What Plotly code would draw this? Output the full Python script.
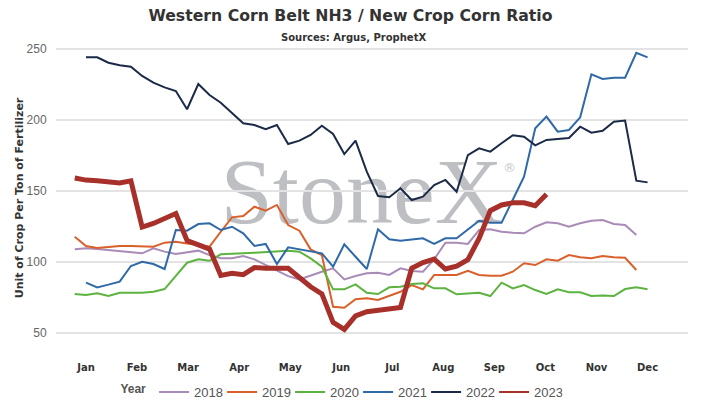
import plotly.graph_objects as Go

# razao NH3 / milho safra nova - valores semanais lidos do grafico
# semana 1 = primeira semana de jan (2021 e 2022 comecam na semana 2)
ano_2018 = [108.8, 109.5, 109.1, 108.3, 107.6, 106.9, 106.0, 109.5, 107.2, 105.5,
            106.5, 107.9, 104.8, 102.5, 102.5, 104.1, 101.8, 97.8, 94.0, 90.0,
            87.7, 90.5, 93.1, 95.5, 87.7, 90.1, 92.0, 92.4, 90.8, 95.5,
            93.6, 93.1, 101.8, 113.5, 113.5, 112.6, 122.4, 122.9, 121.2, 120.5,
            120.1, 124.7, 127.8, 127.1, 124.7, 127.1, 128.9, 129.4, 126.6, 125.9,
            118.9]
ano_2019 = [117.7, 111.2, 109.8, 110.7, 111.2, 111.2, 111.2, 110.7, 113.5, 114.2,
            113.0, 111.9, 110.7, 121.2, 131.3, 132.2, 138.8, 136.0, 140.0, 125.9,
            121.9, 108.8, 104.8, 68.5, 67.8, 73.7, 74.4, 73.2, 76.0, 79.0,
            83.7, 80.7, 90.8, 90.8, 90.8, 93.8, 90.8, 90.3, 90.3, 93.1,
            99.0, 97.8, 101.8, 100.8, 104.8, 103.2, 102.5, 104.1, 103.2, 102.9,
            94.3]
ano_2020 = [77.4, 76.7, 77.9, 76.0, 78.3, 78.3, 78.3, 79.0, 80.9, 90.1,
            99.4, 101.8, 100.8, 105.3, 105.5, 106.0, 106.5, 106.9, 107.5, 107.9,
            107.2, 102.5, 96.6, 80.7, 80.7, 84.2, 78.3, 77.4, 82.1, 82.6,
            84.4, 84.9, 81.4, 81.4, 77.2, 77.9, 78.3, 76.0, 85.4, 81.4,
            83.7, 80.2, 77.4, 80.7, 78.6, 78.6, 76.0, 76.3, 76.0, 80.9,
            82.1, 80.7]
ano_2021 = [85.4, 82.1, 84.0, 86.1, 97.1, 100.1, 98.5, 95.0, 122.4, 121.9,
            126.6, 127.1, 122.4, 124.7, 120.1, 111.2, 112.6, 98.5, 110.2, 108.8,
            107.9, 106.0, 96.6, 112.4, 103.6, 95.0, 122.9, 115.9, 114.9, 115.9,
            116.6, 112.6, 116.6, 116.6, 122.9, 128.9, 127.5, 127.5, 143.7, 159.9,
            193.9, 202.1, 191.5, 192.7, 201.6, 231.9, 228.6, 229.5, 229.5, 247.0,
            243.8]
ano_2022 = [243.8, 243.8, 240.0, 238.2, 237.2, 230.7, 226.0, 222.7, 220.1, 207.3,
            225.0, 217.3, 211.9, 204.4, 197.4, 196.2, 193.2, 196.2, 182.9, 185.2,
            189.2, 195.7, 189.9, 175.8, 185.2, 163.4, 146.3, 145.4, 151.7, 143.5,
            145.8, 154.0, 157.6, 149.3, 175.1, 179.8, 177.5, 183.4, 189.0, 188.0,
            181.9, 185.7, 186.4, 187.1, 195.0, 190.8, 192.2, 198.5, 199.3, 157.1,
            155.9]
ano_2023 = [159.0, 157.5, 157.0, 156.5, 155.5, 157.0, 124.5, 127.0, 130.5, 134.0,
            115.0, 112.0, 109.0, 90.5, 92.0, 91.0, 96.0, 95.5, 95.5, 95.5,
            89.0, 82.5, 77.5, 57.5, 52.5, 62.0, 65.0, 66.0, 67.5, 68.0,
            95.5, 99.5, 102.0, 95.0, 97.0, 101.5, 116.5, 136.0, 140.0, 141.5,
            141.5, 139.5, 147.5]

meses = ['Jan', 'Feb', 'Mar', 'Apr', 'May', 'Jun', 'Jul', 'Aug', 'Sep', 'Oct', 'Nov', 'Dec']
marcas_y = [50, 100, 150, 200, 250]

# (nome, valores, semana inicial, cor, espessura)
series = [
    ('2018', ano_2018, 1, '#a88bb6', 2),
    ('2019', ano_2019, 1, '#d9602a', 2),
    ('2020', ano_2020, 1, '#5db33f', 2),
    ('2021', ano_2021, 2, '#2f69a8', 2),
    ('2022', ano_2022, 2, '#1b2a47', 2),
    ('2023', ano_2023, 1, '#a8302a', 5),
]

fig = Go.Figure()
for nome, valores, inicio, cor, larg in series:
    semanas = list(range(inicio, inicio + len(valores)))
    fig.add_trace(Go.Scatter(x=semanas, y=valores, name=nome, mode='lines',
                             legendgroup=nome, showlegend=(larg == 2),
                             line={'color': cor, 'width': larg}))
    if larg != 2:
        # na legenda a linha grossa aparece fina, igual as outras
        fig.add_trace(Go.Scatter(x=[None], y=[None], name=nome, mode='lines',
                                 legendgroup=nome, line={'color': cor, 'width': 2}))

# posicao dos rotulos de mes: jan na semana 2, dez na semana 52
pos_meses = [2 + i * 50 / 11 for i in range(12)]

fig.update_layout(
    width=701, height=409,
    margin=dict(l=56, r=13, t=46, b=59, autoexpand=False),
    paper_bgcolor='white', plot_bgcolor='white',
    font=dict(family='DejaVu Sans', color='#333333'),
    title=dict(text='<b>Western Corn Belt NH3 / New Crop Corn Ratio</b>',
               x=0.5, xanchor='center', y=1 - 16 / 409, yanchor='middle',
               font=dict(size=15.7, color='#333333')),
    showlegend=True,
    legend=dict(orientation='h', x=0.45, xanchor='center',
                yref='container', y=1 - 392 / 409, yanchor='middle',
                title=dict(text='<b>Year</b>', font=dict(size=12, color='#555555')),
                font=dict(family='Liberation Sans', size=13, color='#555555'),
                entrywidthmode='pixels', entrywidth=23, itemwidth=30),
)

fig.update_xaxes(range=[-0.67, 55.6], tickvals=pos_meses,
                 ticktext=['<b>' + m + '</b>' for m in meses],
                 showgrid=False, zeroline=False, showline=False,
                 ticks='outside', ticklen=8, tickcolor='rgba(0,0,0,0)',
                 tickfont=dict(size=10, color='#333333', family='DejaVu Sans'))
fig.update_yaxes(range=[38.06, 251.76], tickvals=marcas_y,
                 showgrid=True, gridcolor='#e3e3e3', gridwidth=1.5, zeroline=False,
                 ticks='outside', ticklen=6, tickcolor='rgba(0,0,0,0)',
                 tickfont=dict(family='Liberation Sans', size=12, color='#666666'),
                 title=dict(text='<b>Unit of Crop Per Ton of Fertilizer</b>', standoff=0,
                            font=dict(size=11, color='#333333')))

# subtitulo
fig.add_annotation(text='<b>Sources: Argus, ProphetX</b>', xref='paper', yref='paper',
                   x=(353 - 56) / 632, y=1 + (46 - 37) / 304, showarrow=False,
                   xanchor='center', yanchor='middle',
                   font=dict(size=10, color='#333333'))

# marca d'agua atras das linhas
fig.add_shape(type='rect', xref='paper', yref='paper', x0=0.261, x1=0.706, y0=0.45, y1=0.66,
              line=dict(width=0), layer='below',
              label=dict(text='StoneX', textposition='middle center',
                         font=dict(family='Liberation Serif', size=94, color='#bdbfc2')))
fig.add_annotation(text='®', xref='paper', yref='paper', x=0.731, y=0.599, showarrow=False,
                   font=dict(size=13, color='#c8c8c8'))

# tira a margem padrao do body para o grafico ficar colado no canto
fig.write_html("out.html", config={'displayModeBar': False},
               post_script="document.body.style.margin='0';")
